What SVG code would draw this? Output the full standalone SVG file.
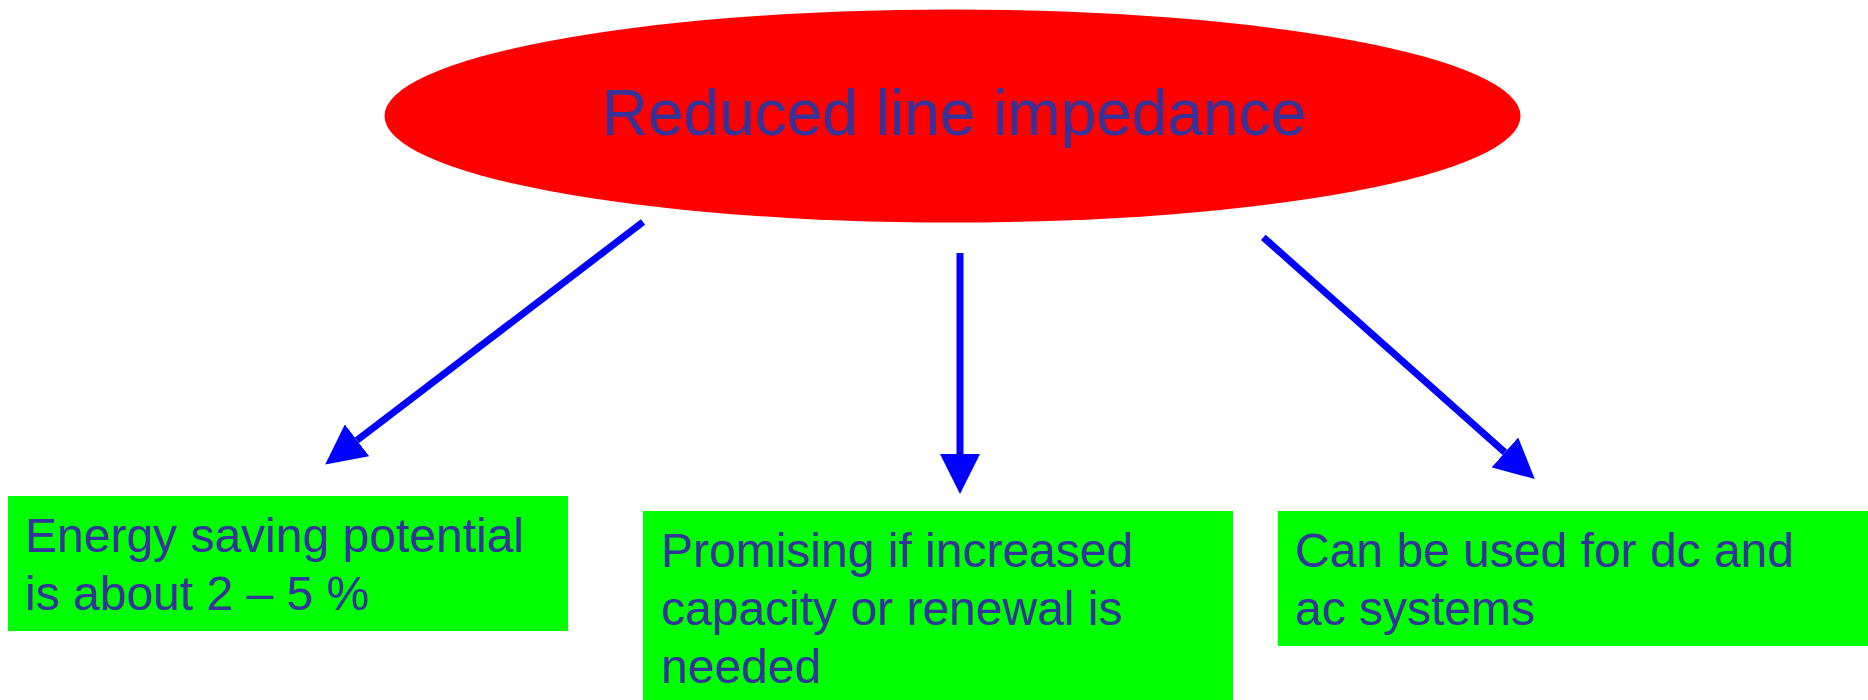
<svg xmlns="http://www.w3.org/2000/svg" width="1868" height="700" viewBox="0 0 1868 700">
<style>
.t{font-family:"Liberation Sans",Arial,sans-serif;fill:#333399;}
.big{font-size:64px;}
.lbl{font-size:48px;}
.box{fill:#00FF00;}
.conn{stroke:#0000FF;stroke-width:7;fill:none;}
</style>
<defs>
<marker id="ah" markerUnits="userSpaceOnUse" markerWidth="40" markerHeight="40" viewBox="0 0 39 39" refX="0" refY="19.5" orient="auto">
<path d="M0,0 L39,19.5 L0,39 Z" fill="#0000FF"/>
</marker>
</defs>
<rect width="1868" height="700" fill="#FFFFFF"/>
<g id="top">
<ellipse cx="952.5" cy="116" rx="568" ry="106.5" fill="#FF0000"/>
<text class="t big" x="954" y="135" text-anchor="middle">Reduced line impedance</text>
</g>
<g id="connectors">
<line class="conn" x1="643" y1="222" x2="357" y2="440.3" marker-end="url(#ah)"/>
<line class="conn" x1="960" y1="253" x2="960" y2="454" marker-end="url(#ah)"/>
<line class="conn" x1="1263.3" y1="237.3" x2="1504.9" y2="452.4" marker-end="url(#ah)"/>
</g>
<g id="box1">
<rect class="box" x="8" y="496" width="560" height="135"/>
<text class="t lbl" x="25" y="551.7">Energy saving potential</text>
<text class="t lbl" x="25" y="610">is about 2 – 5 %</text>
</g>
<g id="box2">
<rect class="box" x="643" y="511" width="590" height="200"/>
<text class="t lbl" x="661" y="566.7">Promising if increased</text>
<text class="t lbl" x="661" y="625">capacity or renewal is</text>
<text class="t lbl" x="661" y="683">needed</text>
</g>
<g id="box3">
<rect class="box" x="1277.8" y="511" width="600" height="135"/>
<text class="t lbl" x="1295" y="566.7">Can be used for dc and</text>
<text class="t lbl" x="1295" y="625">ac systems</text>
</g>
</svg>
